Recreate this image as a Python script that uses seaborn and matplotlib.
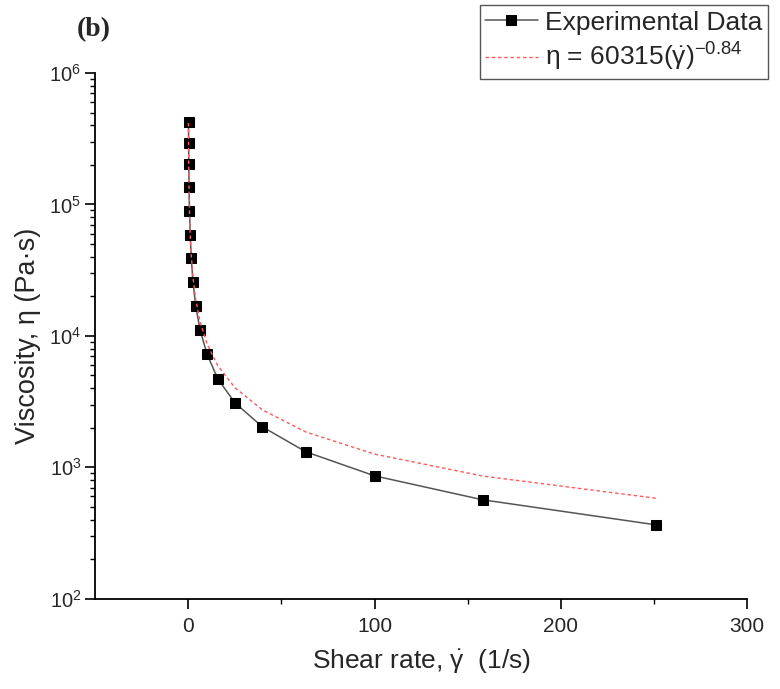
import numpy as np
import pandas as pd
import matplotlib
matplotlib.use('Agg')
import matplotlib.pyplot as plt
import seaborn as sns

# --- data ---
shear_rate = [0.1, 0.158, 0.251, 0.398, 0.631, 1.0, 1.58, 2.51, 3.98, 6.31,
              10.0, 15.8, 25.1, 39.8, 63.1, 100.0, 158.0, 251.0]
viscosity = [424000, 294000, 203000, 136000, 89000, 58600, 39200, 25700, 16900, 11100,
             7290, 4710, 3090, 2030, 1312, 861, 566, 365]

# power-law fit coefficients given in the legend
fit_k = 60315
fit_n = -0.84

df = pd.DataFrame({'shear': shear_rate, 'eta': viscosity})
df['fit'] = fit_k * df['shear'] ** fit_n

sns.set_style('ticks')
plt.rcParams['font.family'] = ['Liberation Sans', 'DejaVu Sans']
plt.rcParams['mathtext.fontset'] = 'custom'
plt.rcParams['mathtext.rm'] = 'Liberation Sans'
plt.rcParams['mathtext.it'] = 'Liberation Sans'

fig = plt.figure(figsize=(7.8, 6.89), dpi=100)
ax = fig.add_axes([0.122, 0.131, 0.836, 0.763])

sns.lineplot(data=df, x='shear', y='eta', ax=ax, color='#555555', lw=1.1,
             marker='s', markersize=9, markerfacecolor='black', markeredgecolor='black',
             label='Experimental Data')
sns.lineplot(data=df, x='shear', y='fit', ax=ax, color='#ff5a5a', lw=1.0,
             linestyle=(0, (2.5, 2)), label=r'η = 60315($\dot{\gamma}$)$^{-0.84}$')

ax.set_yscale('log')
ax.set_xlim(-50, 300)
ax.set_ylim(1e2, 1e6)
ax.set_xticks([0, 100, 200, 300])
ax.set_xticks([50, 150, 250], minor=True)
ax.tick_params(axis='both', which='major', length=7, width=1.2, color='black')
ax.tick_params(axis='x', which='major', labelsize=15, pad=6)
ax.tick_params(axis='y', which='major', labelsize=14.5, pad=3)
ax.tick_params(axis='both', which='minor', length=3.5, width=1, color='black')
for s in ['left', 'bottom']:
    ax.spines[s].set_linewidth(1.3)
    ax.spines[s].set_color('black')
sns.despine(ax=ax)

ax.set_xlabel(r'Shear rate, $\dot{\gamma}$  (1/s)', fontsize=19, labelpad=8)
ax.set_ylabel('Viscosity, η (Pa·s)', fontsize=19.5, labelpad=6)

ax.legend_.remove()
h, l = ax.get_legend_handles_labels()
h[0].set_markersize(7)
fig.legend(h, l, loc='upper left', bbox_to_anchor=(0.608, 1.0), fontsize=19,
           frameon=True, fancybox=False, edgecolor='#555555', framealpha=1,
           handlelength=2.0, borderpad=0.2, labelspacing=0.25, handletextpad=0.3,
           borderaxespad=0.2)

fig.text(0.098, 0.947, '(b)', fontsize=20, fontweight='bold', family='Liberation Serif')

fig.savefig('out.png', dpi=100)
